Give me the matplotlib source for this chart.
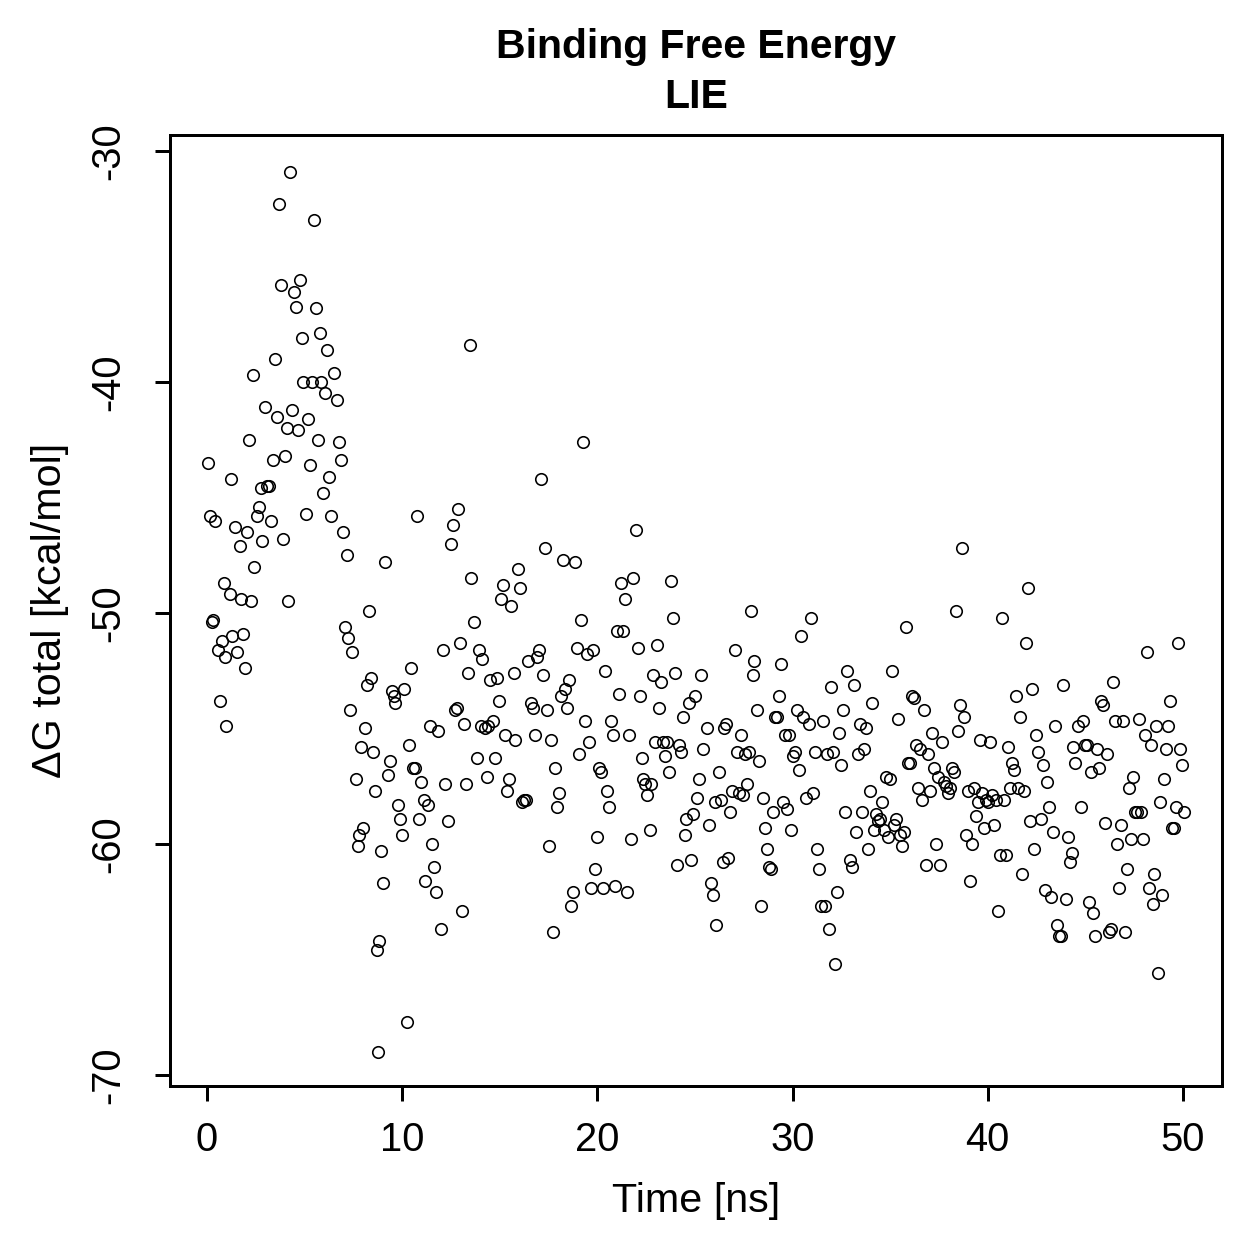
import numpy as np
import matplotlib
matplotlib.use("Agg")
from matplotlib import pyplot as plt

plt.rcParams['font.family'] = ['Liberation Sans', 'DejaVu Sans']

# time [ns] and binding free energy [kcal/mol]
time_ns = [
    0.05, 0.15, 0.26, 0.31, 0.41, 0.56, 0.67, 0.77, 0.87, 0.92, 0.97, 1.18, 1.23, 1.28, 1.43, 1.54,
    1.69, 1.74, 1.84, 1.95, 2.05, 2.15, 2.25, 2.36, 2.41, 2.56, 2.66, 2.77, 2.82, 2.97, 3.07, 3.18,
    3.28, 3.38, 3.48, 3.59, 3.69, 3.79, 3.89, 4.00, 4.10, 4.15, 4.25, 4.35, 4.46, 4.56, 4.66, 4.76,
    4.87, 4.92, 5.07, 5.17, 5.28, 5.38, 5.48, 5.58, 5.69, 5.79, 5.84, 5.94, 6.05, 6.15, 6.25, 6.35,
    6.51, 6.66, 6.76, 6.86, 6.97, 7.07, 7.17, 7.22, 7.33, 7.43, 7.63, 7.74, 7.79, 7.89, 7.99, 8.09,
    8.20, 8.30, 8.40, 8.50, 8.61, 8.71, 8.76, 8.81, 8.91, 9.02, 9.12, 9.27, 9.38, 9.48, 9.58, 9.63,
    9.78, 9.89, 9.99, 10.09, 10.25, 10.35, 10.45, 10.55, 10.66, 10.76, 10.86, 10.96, 11.12, 11.17,
    11.32, 11.42, 11.53, 11.63, 11.73, 11.83, 11.99, 12.09, 12.19, 12.35, 12.50, 12.60, 12.70, 12.81,
    12.86, 12.96, 13.06, 13.17, 13.27, 13.37, 13.52, 13.47, 13.68, 13.83, 13.93, 14.04, 14.09, 14.24,
    14.34, 14.40, 14.50, 14.65, 14.75, 14.86, 14.96, 15.06, 15.16, 15.27, 15.37, 15.47, 15.57, 15.73,
    15.78, 15.93, 16.03, 16.14, 16.24, 16.34, 16.44, 16.60, 16.70, 16.80, 16.91, 17.01, 17.11, 17.21,
    17.32, 17.42, 17.52, 17.62, 17.73, 17.83, 17.93, 18.03, 18.14, 18.24, 18.34, 18.44, 18.55, 18.65,
    18.75, 18.85, 18.95, 19.06, 19.16, 19.26, 19.36, 19.47, 19.57, 19.67, 19.77, 19.88, 19.98, 20.08,
    20.18, 20.29, 20.39, 20.49, 20.59, 20.70, 20.80, 20.90, 21.00, 21.11, 21.21, 21.31, 21.41, 21.52,
    21.62, 21.72, 21.82, 21.98, 22.08, 22.18, 22.28, 22.34, 22.44, 22.54, 22.69, 22.75, 22.85, 22.95,
    23.05, 23.16, 23.26, 23.36, 23.46, 23.57, 23.67, 23.77, 23.87, 23.98, 24.08, 24.18, 24.28, 24.39,
    24.49, 24.54, 24.69, 24.80, 24.90, 25.00, 25.10, 25.20, 25.31, 25.41, 25.61, 25.72, 25.82, 25.92,
    26.02, 26.08, 26.23, 26.33, 26.43, 26.49, 26.59, 26.69, 26.79, 26.90, 27.05, 27.15, 27.25, 27.36,
    27.46, 27.56, 27.66, 27.77, 27.87, 27.97, 28.02, 28.18, 28.28, 28.38, 28.48, 28.59, 28.69, 28.79,
    28.89, 29.00, 29.10, 29.20, 29.30, 29.41, 29.51, 29.61, 29.71, 29.82, 29.92, 30.02, 30.12, 30.23,
    30.33, 30.43, 30.53, 30.69, 30.84, 30.94, 31.05, 31.15, 31.25, 31.35, 31.45, 31.56, 31.66, 31.76,
    31.86, 31.97, 32.07, 32.17, 32.27, 32.38, 32.48, 32.58, 32.68, 32.79, 32.94, 33.04, 33.15, 33.25,
    33.35, 33.45, 33.56, 33.66, 33.76, 33.86, 33.97, 34.07, 34.17, 34.27, 34.38, 34.48, 34.58, 34.68,
    34.78, 34.89, 34.99, 35.09, 35.19, 35.30, 35.40, 35.50, 35.60, 35.71, 35.81, 35.91, 36.01, 36.12,
    36.22, 36.32, 36.42, 36.53, 36.63, 36.73, 36.83, 36.94, 37.04, 37.14, 37.24, 37.35, 37.45, 37.55,
    37.65, 37.76, 37.86, 37.96, 38.06, 38.17, 38.27, 38.37, 38.47, 38.58, 38.68, 38.78, 38.88, 38.99,
    39.09, 39.19, 39.29, 39.40, 39.50, 39.60, 39.70, 39.81, 39.91, 40.01, 40.11, 40.22, 40.32, 40.42,
    40.52, 40.62, 40.73, 40.83, 40.93, 41.03, 41.14, 41.24, 41.34, 41.44, 41.55, 41.65, 41.75, 41.85,
    41.96, 42.06, 42.16, 42.26, 42.37, 42.47, 42.57, 42.73, 42.83, 42.93, 43.03, 43.14, 43.24, 43.34,
    43.44, 43.55, 43.65, 43.75, 43.85, 44.01, 44.11, 44.21, 44.31, 44.36, 44.47, 44.62, 44.77, 44.88,
    44.98, 45.08, 45.18, 45.29, 45.39, 45.49, 45.59, 45.70, 45.80, 45.90, 46.00, 46.11, 46.21, 46.31,
    46.41, 46.52, 46.62, 46.72, 46.82, 46.93, 47.03, 47.13, 47.23, 47.34, 47.44, 47.54, 47.64, 47.75,
    47.85, 47.95, 48.05, 48.16, 48.26, 48.36, 48.46, 48.51, 48.62, 48.72, 48.82, 48.92, 49.03, 49.13,
    49.23, 49.33, 49.44, 49.54, 49.64, 49.74, 49.85, 49.95, 50.05,
]

dg_total = [
    -43.5, -45.8, -50.4, -50.3, -46.0, -51.6, -53.8, -51.2, -48.7, -51.9, -54.9, -49.2, -44.2, -51.0, -46.3, -51.7,
    -47.1, -49.4, -50.9, -52.4, -46.5, -42.5, -49.5, -39.7, -48.0, -45.8, -45.4, -44.6, -46.9, -41.1, -44.5, -44.5,
    -46.0, -43.4, -39.0, -41.5, -32.3, -35.8, -46.8, -43.2, -42.0, -49.5, -30.9, -41.2, -36.1, -36.75, -42.1, -35.6,
    -38.1, -40.0, -45.7, -41.6, -43.6, -40.0, -33.0, -36.8, -42.5, -37.9, -40.0, -44.8, -40.5, -38.6, -44.1, -45.8,
    -39.6, -40.8, -42.6, -43.4, -46.5, -50.6, -47.5, -51.1, -54.2, -51.7, -57.2, -60.1, -59.6, -55.8, -59.3, -55.0,
    -53.1, -49.9, -52.8, -56.0, -57.7, -64.6, -69.0, -64.2, -60.3, -61.7, -47.8, -57.0, -56.4, -53.4, -53.6, -53.9,
    -58.3, -58.9, -59.6, -53.3, -67.7, -55.7, -52.4, -56.7, -56.7, -45.8, -58.9, -57.3, -58.1, -61.6,
    -58.3, -54.9, -60.0, -61.0, -62.1, -55.1, -63.7, -51.6, -57.4, -59.0, -47.0, -46.2, -54.2, -54.1,
    -45.5, -51.3, -62.9, -54.8, -57.4, -52.6, -48.5, -38.4, -50.4, -56.3, -51.6, -54.9, -52.0, -55.0,
    -57.1, -54.9, -52.9, -54.7, -56.3, -52.8, -53.8, -49.4, -48.8, -55.3, -57.7, -57.2, -49.7, -52.6,
    -55.5, -48.1, -48.9, -58.2, -58.1, -58.1, -52.1, -53.9, -54.1, -55.3, -51.9, -51.6, -44.2, -52.7,
    -47.2, -54.2, -60.1, -55.5, -63.8, -56.7, -58.4, -57.8, -53.6, -47.7, -53.3, -54.1, -52.9, -62.7,
    -62.1, -47.8, -51.5, -56.1, -50.3, -42.6, -54.7, -51.8, -55.6, -61.9, -51.6, -61.1, -59.7, -56.7,
    -56.9, -61.9, -52.5, -57.7, -58.4, -54.7, -55.3, -61.8, -50.8, -53.5, -48.7, -50.8, -49.4, -62.1,
    -55.3, -59.8, -48.5, -46.4, -51.5, -53.6, -56.3, -57.2, -57.4, -57.9, -59.4, -57.4, -52.7, -55.6,
    -51.4, -54.1, -53.0, -55.6, -56.2, -55.6, -56.9, -48.6, -50.2, -52.6, -60.9, -55.7, -56.0, -54.5,
    -59.6, -58.9, -53.9, -60.7, -58.7, -53.6, -58.0, -57.2, -52.7, -55.9, -55.0, -59.2, -61.7, -62.2,
    -58.2, -63.5, -56.9, -58.1, -60.8, -55.0, -54.8, -60.6, -58.6, -57.7, -51.6, -56.0, -57.8, -55.3,
    -57.9, -56.1, -57.4, -56.0, -49.9, -52.7, -52.1, -54.2, -56.4, -62.7, -58.0, -59.3, -60.2, -61.0,
    -61.1, -58.6, -54.5, -54.5, -53.6, -52.2, -58.2, -55.3, -58.5, -55.3, -59.4, -56.2, -56.0, -54.2,
    -56.8, -51.0, -54.5, -58.0, -54.8, -50.2, -57.8, -56.0, -60.2, -61.1, -62.7, -54.7, -62.7, -56.1,
    -63.7, -53.2, -56.0, -65.2, -62.1, -55.2, -56.6, -54.2, -58.6, -52.5, -60.7, -61.0, -53.1, -59.5,
    -56.1, -54.8, -58.6, -55.9, -55.0, -60.2, -57.7, -53.9, -59.4, -58.7, -59.0, -58.9, -58.2, -59.4,
    -57.1, -59.7, -57.2, -52.5, -59.2, -58.9, -54.6, -59.6, -60.1, -59.5, -50.6, -56.5, -56.5, -53.6,
    -53.7, -55.7, -57.6, -55.9, -58.1, -54.2, -60.9, -56.1, -57.7, -55.2, -56.7, -60.0, -57.1, -60.9,
    -55.6, -57.3, -57.5, -57.8, -57.6, -56.7, -56.9, -49.9, -55.1, -54.0, -47.2, -54.5, -59.6, -57.7,
    -61.6, -60.0, -57.6, -58.8, -58.2, -55.5, -57.8, -59.3, -58.1, -58.2, -55.6, -57.9, -59.2, -58.1,
    -62.9, -60.5, -50.2, -58.1, -60.5, -55.8, -57.6, -56.5, -56.8, -53.6, -57.6, -54.5, -61.3, -57.7,
    -51.3, -48.9, -59.0, -53.3, -60.2, -55.3, -56.0, -58.9, -56.6, -62.0, -57.3, -58.4, -62.3, -59.5,
    -54.9, -63.5, -64.0, -64.0, -53.1, -62.4, -59.7, -60.8, -60.4, -55.8, -56.5, -54.9, -58.4, -54.7,
    -55.7, -55.7, -62.5, -56.9, -63.0, -64.0, -55.9, -56.7, -53.8, -54.0, -59.1, -56.1, -63.8, -63.7,
    -53.0, -54.7, -60.0, -61.9, -59.2, -54.7, -63.8, -61.1, -57.6, -59.8, -57.1, -58.6, -58.6, -54.6,
    -58.6, -59.8, -55.3, -51.7, -61.9, -55.7, -62.6, -61.3, -54.9, -65.6, -58.2, -62.2, -57.2, -55.9,
    -54.9, -53.8, -59.3, -59.3, -58.4, -51.3, -55.9, -56.6, -58.6,
]

x_ticks = [0, 10, 20, 30, 40, 50]
y_ticks = [-30, -40, -50, -60, -70]

fig = plt.figure(figsize=(1259 / 180, 1259 / 180), dpi=180)
ax = fig.add_axes([0.135, 0.1374, 0.8355, 0.7554])

ax.plot(time_ns, dg_total, linestyle='none', marker='o', markersize=4.6,
        markerfacecolor='none', markeredgecolor='black', markeredgewidth=0.65)

ax.set_xlim(-1.9, 52.0)
ax.set_ylim(-70.48, -29.31)
ax.set_xticks(x_ticks)
ax.set_yticks(y_ticks)
ax.set_xticklabels([str(v) for v in x_ticks])
ax.set_yticklabels([str(v) for v in y_ticks])

for side in ax.spines.values():
    side.set_linewidth(1.2)
ax.tick_params(direction='out', length=6, width=1.2, labelsize=16)
ax.tick_params(axis='x', pad=8)
ax.tick_params(axis='y', pad=11, labelrotation=90)
for lab in ax.get_yticklabels():
    lab.set_va('center')

ax.set_xlabel('Time [ns]', fontsize=16.5, labelpad=9)
ax.set_ylabel('\u0394G total [kcal/mol]', fontsize=16.5, labelpad=8)
fig.text(0.553, 0.963, 'Binding Free Energy', ha='center', va='center',
         fontsize=16.4, fontweight='bold')
fig.text(0.553, 0.923, 'LIE', ha='center', va='center',
         fontsize=16.4, fontweight='bold')

fig.savefig('out.png', dpi=180)
